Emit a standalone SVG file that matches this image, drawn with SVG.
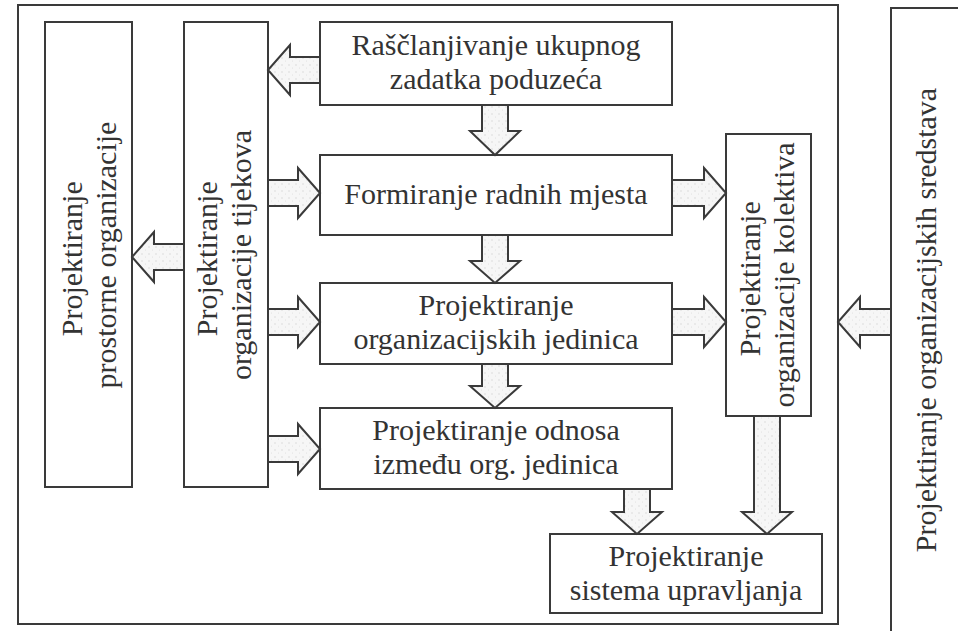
<svg xmlns="http://www.w3.org/2000/svg" width="958" height="631" viewBox="0 0 958 631">
  <defs>
    <!-- faint stipple used inside the block arrows -->
    <pattern id="stipple" width="7" height="7" patternUnits="userSpaceOnUse">
      <rect width="7" height="7" fill="#f6f6f6"/>
      <circle cx="2" cy="2" r="0.7" fill="#d4d4d4"/>
      <circle cx="5.5" cy="5" r="0.5" fill="#dcdcdc"/>
    </pattern>
    <style>
      .box { fill: #ffffff; stroke: #3a3a3a; stroke-width: 2; }
      .frame { fill: none; stroke: #3a3a3a; stroke-width: 2; }
      .arrow { fill: url(#stipple); stroke: #3a3a3a; stroke-width: 2; stroke-linejoin: miter; }
      .lbl { font-size: 30px; fill: #333333; text-anchor: middle; }
    </style>
  </defs>

  <rect width="958" height="631" fill="#ffffff"/>

  <!-- enclosing frame -->
  <rect id="frame" class="frame" x="18" y="5" width="820" height="619"/>

  <g font-family="'Liberation Serif', 'DejaVu Serif', serif">
  <!-- nodes -->
  <g id="prostorna">
    <rect class="box" x="45" y="22" width="87" height="465"/>
    <text class="lbl" transform="translate(88.5,255) rotate(-90)">
      <tspan x="0" y="-7">Projektiranje</tspan>
      <tspan x="0" y="27">prostorne organizacije</tspan>
    </text>
  </g>

  <g id="tijekovi">
    <rect class="box" x="184" y="22" width="84" height="465"/>
    <text class="lbl" transform="translate(226,255) rotate(-90)">
      <tspan x="0" y="-9">Projektiranje</tspan>
      <tspan x="0" y="25">organizacije tijekova</tspan>
    </text>
  </g>

  <g id="rasclanjivanje">
    <rect class="box" x="320" y="22" width="352" height="83"/>
    <text class="lbl" x="496" y="55">Raščlanjivanje ukupnog</text>
    <text class="lbl" x="496" y="89">zadatka poduzeća</text>
  </g>

  <g id="radna-mjesta">
    <rect class="box" x="320" y="155" width="352" height="80"/>
    <text class="lbl" x="496" y="204">Formiranje radnih mjesta</text>
  </g>

  <g id="org-jedinice">
    <rect class="box" x="320" y="283" width="352" height="81"/>
    <text class="lbl" x="496" y="315">Projektiranje</text>
    <text class="lbl" x="496" y="349">organizacijskih jedinica</text>
  </g>

  <g id="odnosi">
    <rect class="box" x="320" y="408" width="352" height="81"/>
    <text class="lbl" x="496" y="440">Projektiranje odnosa</text>
    <text class="lbl" x="496" y="474">između org. jedinica</text>
  </g>

  <g id="kolektiv">
    <rect class="box" x="726" y="134" width="85" height="282"/>
    <text class="lbl" transform="translate(768.5,275) rotate(-90)">
      <tspan x="0" y="-9">Projektiranje</tspan>
      <tspan x="0" y="25">organizacije kolektiva</tspan>
    </text>
  </g>

  <g id="upravljanje">
    <rect class="box" x="550" y="534" width="272" height="79"/>
    <text class="lbl" x="686" y="566">Projektiranje</text>
    <text class="lbl" x="686" y="600">sistema upravljanja</text>
  </g>

  <g id="sredstva">
    <rect class="box" x="891" y="8" width="80" height="632"/>
    <text class="lbl" transform="translate(926,320) rotate(-90)" x="0" y="10">Projektiranje organizacijskih sredstava</text>
  </g>
  </g>

  <!-- connectors: hollow block arrows -->
  <g id="connectors">
    <!-- into the flows box and out of it -->
    <path class="arrow" d="M320,57 H290 V45 L268,70 L290,95 V83 H320 Z"/>
    <path class="arrow" d="M184,244 H154 V232 L132,257 L154,282 V270 H184 Z"/>
    <path class="arrow" d="M268,180 H298 V168 L320,193 L298,218 V206 H268 Z"/>
    <path class="arrow" d="M268,309 H298 V297 L320,322 L298,347 V335 H268 Z"/>
    <path class="arrow" d="M268,436 H298 V424 L320,449 L298,474 V462 H268 Z"/>
    <!-- main vertical chain -->
    <path class="arrow" d="M482,105 V131 H470 L495,155 L520,131 H508 V105 Z"/>
    <path class="arrow" d="M482,235 V261 H470 L495,283 L520,261 H508 V235 Z"/>
    <path class="arrow" d="M482,364 V386 H470 L495,408 L520,386 H508 V364 Z"/>
    <!-- towards the collective box -->
    <path class="arrow" d="M672,180 H704 V168 L726,193 L704,218 V206 H672 Z"/>
    <path class="arrow" d="M672,309 H704 V297 L726,322 L704,347 V335 H672 Z"/>
    <!-- into management system -->
    <path class="arrow" d="M624,489 V512 H612 L637,534 L662,512 H650 V489 Z"/>
    <path class="arrow" d="M754,416 V512 H742 L767,534 L792,512 H780 V416 Z"/>
    <!-- resources feed the whole frame -->
    <path class="arrow" d="M891,309 H860 V297 L838,322 L860,347 V335 H891 Z"/>
  </g>
</svg>
